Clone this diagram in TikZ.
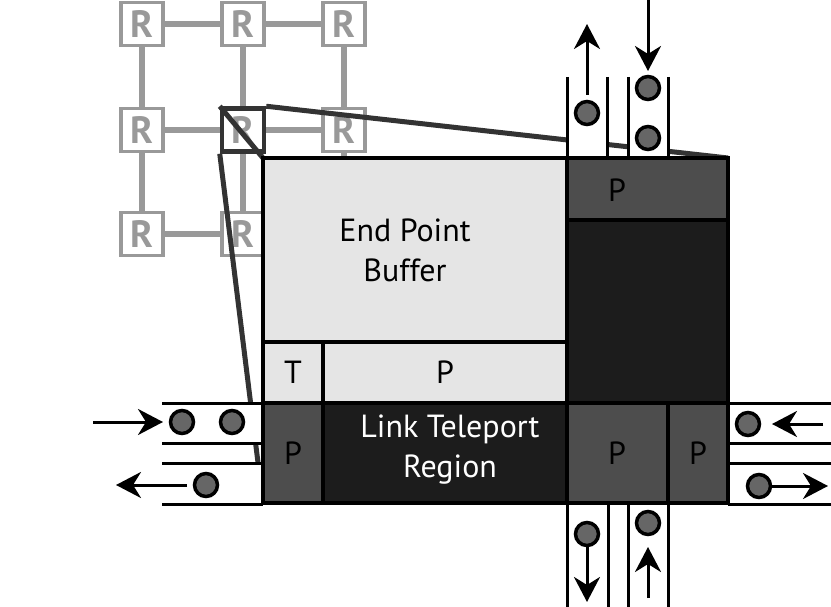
\documentclass[tikz,border=0pt]{standalone}
\usepackage{fontspec}
\setmainfont{PT Sans}
\usetikzlibrary{arrows.meta,backgrounds}
\definecolor{BufferGray}{HTML}{E5E5E5}
\definecolor{PortGray}{HTML}{4D4D4D}
\definecolor{CoreBlack}{HTML}{1C1C1C}
\definecolor{GridGray}{HTML}{999999}
\definecolor{ZoomGray}{HTML}{333333}
\definecolor{FlitGray}{HTML}{666666}
\newcommand{\bigtext}{\fontsize{32}{40}\selectfont}

\begin{document}
\begin{tikzpicture}[x=1pt,y=-1pt,
  router/.style={draw=GridGray,line width=3.5pt,fill=white,minimum width=42pt,minimum height=43pt,inner sep=0pt,text=GridGray,font=\fontsize{38}{38}\selectfont\bfseries},
  link/.style={GridGray,line width=6pt},
  zoomline/.style={ZoomGray,line width=5pt},
  cell/.style={draw=black,line width=3.5pt},
  wall/.style={black,line width=3pt},
  flit/.style={circle,draw=black,line width=3.5pt,fill=FlitGray,minimum size=23pt,inner sep=0pt},
  move/.style={-{Stealth[length=25pt,width=26pt,inset=8pt]},line width=3pt}]
  \useasboundingbox (0,0) rectangle (831,607);
  % router mesh
  \node[router] (r11) at (142,24) {R};
  \node[router] (r12) at (243,24) {R};
  \node[router] (r13) at (344,24) {R};
  \node[router] (r21) at (142,130) {R};
  \node[router,draw=ZoomGray,line width=4.5pt] (r22) at (243,130) {R};
  \node[router] (r23) at (344,130) {R};
  \node[router] (r31) at (142,234) {R};
  \node[router] (r32) at (243,234) {R};
  \coordinate (r33) at (344,234);
  \begin{pgfonlayer}{background}
    \draw[link] (r11) -- (r12); \draw[link] (r12) -- (r13);
    \draw[link] (r21) -- (r22); \draw[link] (r22) -- (r23);
    \draw[link] (r31) -- (r32);
    \draw[link] (r11) -- (r21); \draw[link] (r21) -- (r31);
    \draw[link] (r12) -- (r22); \draw[link] (r22) -- (r32);
    \draw[link] (r13) -- (r23); \draw[link] (r23) -- (r33);
  \end{pgfonlayer}
  % zoom lines
  \coordinate (bTL) at (263,158);
  \coordinate (bTR) at (728,158);
  \coordinate (bBL) at (263,503);
  \draw[zoomline] (r22.north west) -- (bTL);
  \draw[zoomline] (r22.north east) -- (bTR);
  \draw[zoomline] (r22.south west) -- (bBL);
  % channels
  \fill[white] (567,77) rectangle (607,158);
  \fill[white] (628,77) rectangle (668,158);
  \fill[white] (567,503) rectangle (608,607);
  \fill[white] (628,503) rectangle (668,607);
  \fill[white] (162,403) rectangle (263,443);
  \fill[white] (162,463) rectangle (263,504);
  \fill[white] (728,403) rectangle (831,443);
  \fill[white] (728,463) rectangle (831,504);
  \foreach \x in {567,607,628,668}
    \draw[wall] (\x,77) -- (\x,158);
  \foreach \x in {567,608,628,668}
    \draw[wall] (\x,503) -- (\x,607);
  \foreach \y in {403,443,463,504} {
    \draw[wall] (162,\y) -- (263,\y);
    \draw[wall] (728,\y) -- (831,\y);
  }
  % router core
  \draw[cell,fill=BufferGray] (263,158) rectangle (567,342);
  \draw[cell,fill=BufferGray] (263,342) rectangle (323,403);
  \draw[cell,fill=BufferGray] (323,342) rectangle (567,403);
  \draw[cell,fill=CoreBlack] (567,158) rectangle (728,403);
  \draw[cell,fill=PortGray] (567,158) rectangle (728,220);
  \draw[cell,fill=PortGray] (263,403) rectangle (323,503);
  \draw[cell,fill=CoreBlack] (323,403) rectangle (567,503);
  \draw[cell,fill=PortGray] (567,403) rectangle (668,503);
  \draw[cell,fill=PortGray] (668,403) rectangle (728,503);
  \node[font=\bigtext,align=center] (buffer) at (405,250) {End Point\\Buffer};
  \node[font=\bigtext] (tport) at (293,372) {T};
  \node[font=\bigtext] (pbuf) at (445,372) {P};
  \node[font=\bigtext] (pnorth) at (617,190) {P};
  \node[font=\bigtext] (pwest) at (293,453) {P};
  \node[font=\bigtext,text=white,align=center] (link) at (450,450) {Link Teleport\\Region};
  \node[font=\bigtext] (psouth) at (617,453) {P};
  \node[font=\bigtext] (peast) at (698,453) {P};
  % flits
  \node[flit] (fn1) at (587,113) {};
  \node[flit] (fn2) at (648,88) {};
  \node[flit] (fn3) at (648,138) {};
  \node[flit] (fw1) at (182,422) {};
  \node[flit] (fw2) at (232,422) {};
  \node[flit] (fw3) at (206,485) {};
  \node[flit] (fe1) at (748,424) {};
  \node[flit] (fe2) at (759,486) {};
  \node[flit] (fs1) at (587,534) {};
  \node[flit] (fs2) at (648,523) {};
  % arrows
  \coordinate (nOutA) at (587,95);  \coordinate (nOutB) at (587,24);
  \coordinate (nInA) at (648,0);    \coordinate (nInB) at (648,71);
  \coordinate (wInA) at (93,422);   \coordinate (wInB) at (163,422);
  \coordinate (wOutA) at (187,485); \coordinate (wOutB) at (116,485);
  \coordinate (eInA) at (823,424);  \coordinate (eInB) at (772,424);
  \coordinate (eOutB) at (828,486);
  \coordinate (sOutB) at (587,602);
  \coordinate (sInA) at (648,598);  \coordinate (sInB) at (648,547);
  \draw[move] (nOutA) -- (nOutB);
  \draw[move] (nInA) -- (nInB);
  \draw[move] (wInA) -- (wInB);
  \draw[move] (wOutA) -- (wOutB);
  \draw[move] (eInA) -- (eInB);
  \draw[move] (fe2) -- (eOutB);
  \draw[move] (fs1) -- (sOutB);
  \draw[move] (sInA) -- (sInB);
\end{tikzpicture}
\end{document}
